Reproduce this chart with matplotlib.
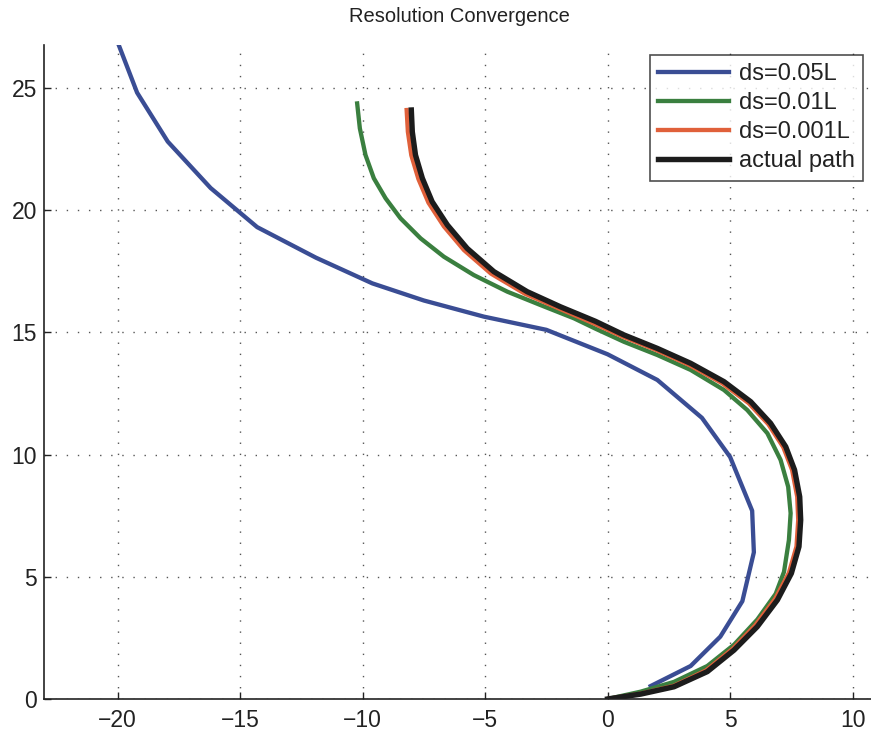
import numpy as np
import matplotlib.pyplot as plt

plt.rcParams['font.family'] = ['Liberation Sans', 'DejaVu Sans']

# path points (x, y) for each step size, from start to end
blue_x = [1.76, 3.39, 4.6, 5.5, 5.97, 5.9, 5.0, 3.85, 2.03, 0.0, -2.5, -5.05, -7.5, -9.6, -11.9, -14.3, -16.2, -17.95, -19.2, -19.95]
blue_y = [0.53, 1.35, 2.55, 4.0, 6.0, 7.7, 9.9, 11.5, 13.05, 14.1, 15.1, 15.64, 16.3, 17.0, 18.05, 19.3, 20.9, 22.8, 24.8, 26.75]

green_x = [0.0, 1.35, 2.71, 4.07, 5.16, 6.11, 6.86, 7.2, 7.4, 7.47, 7.37, 7.06, 6.52, 5.7, 4.75, 3.39, 2.03, 0.67,
           -0.5, -1.37, -2.73, -4.09, -5.46, -6.68, -7.63, -8.45, -9.06, -9.54, -9.88, -10.11, -10.22]
green_y = [0.0, 0.3, 0.7, 1.35, 2.22, 3.25, 4.3, 5.2, 6.5, 7.6, 8.68, 9.78, 10.87, 11.82, 12.64, 13.46, 14.07, 14.61,
           15.15, 15.57, 16.11, 16.66, 17.34, 18.09, 18.84, 19.66, 20.48, 21.3, 22.25, 23.34, 24.36]

orange_x = [0.0, 1.35, 2.7, 4.02, 5.1, 6.03, 6.84, 7.4, 7.71, 7.78, 7.74, 7.53, 7.17, 6.56, 5.76, 4.67, 3.32, 1.97, 0.6,
            -0.58, -2.0, -3.38, -4.76, -5.86, -6.68, -7.31, -7.72, -8.01, -8.15, -8.2]
orange_y = [0.0, 0.22, 0.54, 1.17, 2.05, 3.02, 4.1, 5.16, 6.24, 7.32, 8.27, 9.37, 10.3, 11.24, 12.1, 12.92, 13.67, 14.28, 14.83,
            15.37, 15.98, 16.58, 17.4, 18.36, 19.33, 20.3, 21.27, 22.24, 23.2, 24.09]

black_x = [0.0, 1.35, 2.71, 4.07, 5.16, 6.11, 6.93, 7.5, 7.81, 7.88, 7.84, 7.63, 7.27, 6.65, 5.84, 4.75, 3.39, 2.03, 0.67,
           -0.5, -1.92, -3.28, -4.64, -5.73, -6.54, -7.16, -7.56, -7.84, -7.97, -8.01]
black_y = [0.0, 0.2, 0.5, 1.12, 2.0, 2.96, 4.05, 5.14, 6.23, 7.32, 8.27, 9.37, 10.32, 11.28, 12.16, 12.98, 13.73, 14.34, 14.89,
           15.45, 16.04, 16.66, 17.48, 18.43, 19.39, 20.34, 21.3, 22.25, 23.2, 24.09]

labels = ['ds=0.05L', 'ds=0.01L', 'ds=0.001L', 'actual path']

fig = plt.figure(figsize=(8.71, 7.36), dpi=100)
ax = fig.add_axes([44/871, 37/736, 827/871, 654/736])

ax.plot(blue_x, blue_y, color='#3a4d94', lw=3.1, label=labels[0], solid_joinstyle='round')
ax.plot(green_x, green_y, color='#3a7f3f', lw=3.1, label=labels[1], solid_joinstyle='round')
ax.plot(orange_x, orange_y, color='#e0603a', lw=3.1, label=labels[2], solid_joinstyle='round')
ax.plot(black_x, black_y, color='#1c1c1c', lw=3.9, label=labels[3], solid_joinstyle='round')

ax.set_xlim(-23, 10.75)
ax.set_ylim(0, 26.75)
ax.set_xticks([-20, -15, -10, -5, 0, 5, 10])
ax.set_yticks([0, 5, 10, 15, 20, 25])
ax.set_xticklabels(['\u221220', '\u221215', '\u221210', '\u22125', '0', '5', '10'])
ax.grid(True, color='#555555', linestyle=(0, (1, 7)), linewidth=1.0)
ax.tick_params(direction='in', length=5, width=1, labelsize=16.5, colors='#222222')
ax.tick_params(axis='x', pad=7)
ax.tick_params(axis='y', pad=5)
for s in ['top', 'right']:
    ax.spines[s].set_visible(False)
for s in ['left', 'bottom']:
    ax.spines[s].set_linewidth(1.2)
    ax.spines[s].set_color('#222222')

leg = ax.legend(loc='upper right', bbox_to_anchor=(0.990, 0.985), fontsize=17,
                frameon=True, fancybox=False, edgecolor='#222222', handlelength=3.0,
                handletextpad=0.4, borderpad=0.35, labelspacing=0.3, borderaxespad=0)
leg.get_frame().set_linewidth(1.2)
for t in leg.get_texts():
    t.set_color('#222222')

fig.text(459/871, 1 - 17/736, 'Resolution Convergence', ha='center', va='center',
         fontsize=14.5, color='#222222')

fig.savefig('out.png', dpi=100)
